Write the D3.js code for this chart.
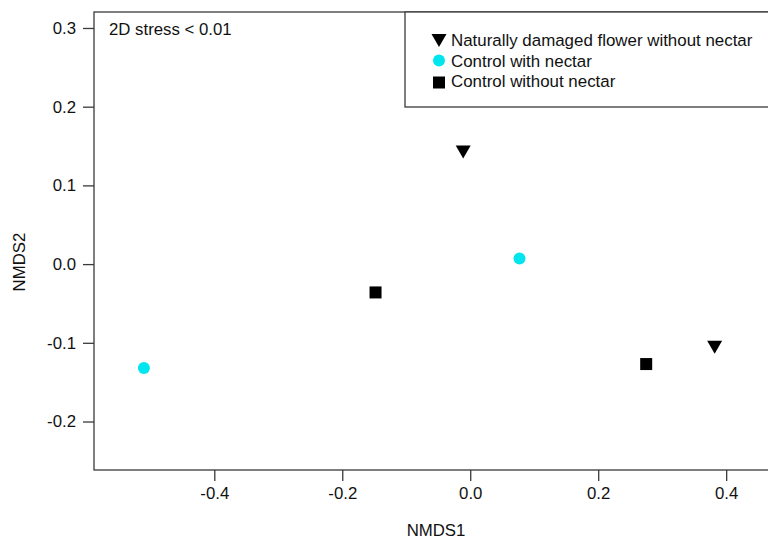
<!DOCTYPE html>
<html><head><meta charset="utf-8">
<script src="https://cdn.jsdelivr.net/npm/d3@7"></script>
<style>body{margin:0;background:#fff}svg{display:block}text{font-family:"Liberation Sans",Arial,sans-serif;fill:#111}</style>
</head><body>
<script>
const groups = ["Naturally damaged flower without nectar", "Control with nectar", "Control without nectar"];
const groupShapes = ["triangleDown", "circle", "square"];
const groupColors = ["#000000", "#00e5ee", "#000000"];
const nmds1 = [-0.011, 0.382, 0.077, -0.510, -0.148, 0.275];
const nmds2 = [0.143, -0.105, 0.007, -0.132, -0.036, -0.127];
const pointGroup = [0, 0, 1, 1, 2, 2];
const xTicks = [-0.4, -0.2, 0.0, 0.2, 0.4];
const yTicks = [-0.2, -0.1, 0.0, 0.1, 0.2, 0.3];
const stressLabel = "2D stress < 0.01";

const W = 768, H = 540;
const pLeft = 94, pRight = 778, pTop = 12, pBottom = 470;
const svg = d3.select("body").append("svg").attr("width", W).attr("height", H);
const x = d3.scaleLinear().domain([-0.588, 0.481]).range([pLeft, pRight]);
const y = d3.scaleLinear().domain([-0.2616, 0.3203]).range([pBottom, pTop]);
const FS = 16.8;
const axisColor = "#3a3a3a";

// frame
svg.append("rect").attr("x", pLeft).attr("y", pTop).attr("width", pRight - pLeft).attr("height", pBottom - pTop)
  .attr("fill", "none").attr("stroke", axisColor).attr("stroke-width", 1.3);

// axes
const fmt = d => d3.format(".1f")(d).replace("\u2212", "-");
const xa = svg.append("g").attr("transform", `translate(0,${pBottom})`)
  .call(d3.axisBottom(x).tickValues(xTicks).tickFormat(fmt).tickSize(11).tickPadding(6));
const ya = svg.append("g").attr("transform", `translate(${pLeft},0)`)
  .call(d3.axisLeft(y).tickValues(yTicks).tickFormat(fmt).tickSize(11).tickPadding(7));
[xa, ya].forEach(g => {
  g.select(".domain").remove();
  g.selectAll("line").attr("stroke", axisColor).attr("stroke-width", 1.3);
  g.selectAll("text").attr("font-size", FS).attr("fill", "#111")
    .style("font-family", '"Liberation Sans",Arial,sans-serif');
});

// axis labels
svg.append("text").attr("x", (pLeft + pRight) / 2).attr("y", 536).attr("text-anchor", "middle")
  .attr("font-size", FS).text("NMDS1");
svg.append("text").attr("transform", `translate(25,262) rotate(-90)`).attr("text-anchor", "middle")
  .attr("font-size", FS).text("NMDS2");

// stress
svg.append("text").attr("x", 109).attr("y", 35).attr("font-size", FS).text(stressLabel);

function drawShape(g, shape, color, cx, cy) {
  if (shape === "triangleDown") {
    g.append("path").attr("d", `M${cx - 7.5},${cy - 6} L${cx + 7.5},${cy - 6} L${cx},${cy + 7} Z`).attr("fill", color);
  } else if (shape === "circle") {
    g.append("circle").attr("cx", cx).attr("cy", cy).attr("r", 6).attr("fill", color);
  } else {
    g.append("rect").attr("x", cx - 6).attr("y", cy - 6).attr("width", 12).attr("height", 12).attr("fill", color);
  }
}

// points
const pts = svg.append("g");
nmds1.forEach((v, i) => {
  const gi = pointGroup[i];
  drawShape(pts, groupShapes[gi], groupColors[gi], x(v), y(nmds2[i]));
});

// legend
const lg = svg.append("g");
lg.append("rect").attr("x", 405).attr("y", pTop).attr("width", 380).attr("height", 95)
  .attr("fill", "#fff").attr("stroke", axisColor).attr("stroke-width", 1.3);
groups.forEach((name, i) => {
  const cy = 40 + i * 20.5;
  drawShape(lg, groupShapes[i], groupColors[i], 439, cy + (i === 2 ? 1.5 : 0));
  lg.append("text").attr("x", 451).attr("y", cy + 6).attr("font-size", 16.9).text(name);
});
</script>
</body></html>
